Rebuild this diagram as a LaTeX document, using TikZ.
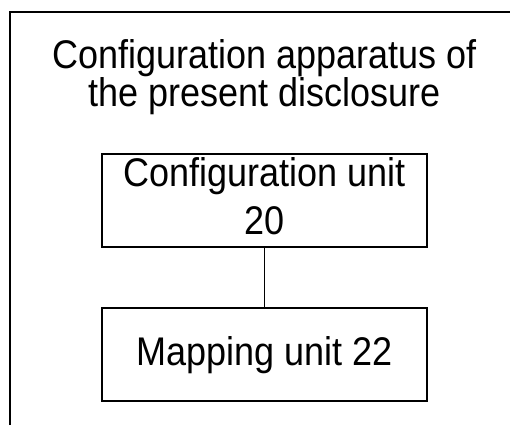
\documentclass[tikz,border=0pt]{standalone}
\usepackage{fontspec}
\setmainfont{Liberation Sans}[FakeStretch=0.9]
\usetikzlibrary{positioning}
\tikzset{%
	block/.style    = {draw, rectangle, line width=2.2pt, minimum width=325pt, minimum height=93pt, inner sep=0pt, align=center, font=\fontsize{40}{48}\selectfont}, % Unit
	heading/.style  = {align=center, font=\fontsize{40}{38}\selectfont}, % Title
	frame/.style    = {line width=2.2pt}, % Outer border
	link/.style     = {line width=1.8pt},
}
\begin{document}
\begin{tikzpicture}[x=1pt,y=-1pt]
	\useasboundingbox (0,0) rectangle (510,425);
	\coordinate (fb) at (10,425);
	\coordinate (fc) at (10,12);
	\coordinate (fr) at (510,12);
	\draw[frame] (fb) -- (fc) -- (fr);

	\node [heading] (title) at (264.5,77) {Configuration apparatus of\\the present disclosure};
	\node [block, text depth=8pt] (cfg) at (264.5,200.5) {Configuration unit\\20};
	\node [block] (map) [below=59pt of cfg] {Mapping unit 22};

	\draw[link] (cfg) -- (map);
\end{tikzpicture}
\end{document}
